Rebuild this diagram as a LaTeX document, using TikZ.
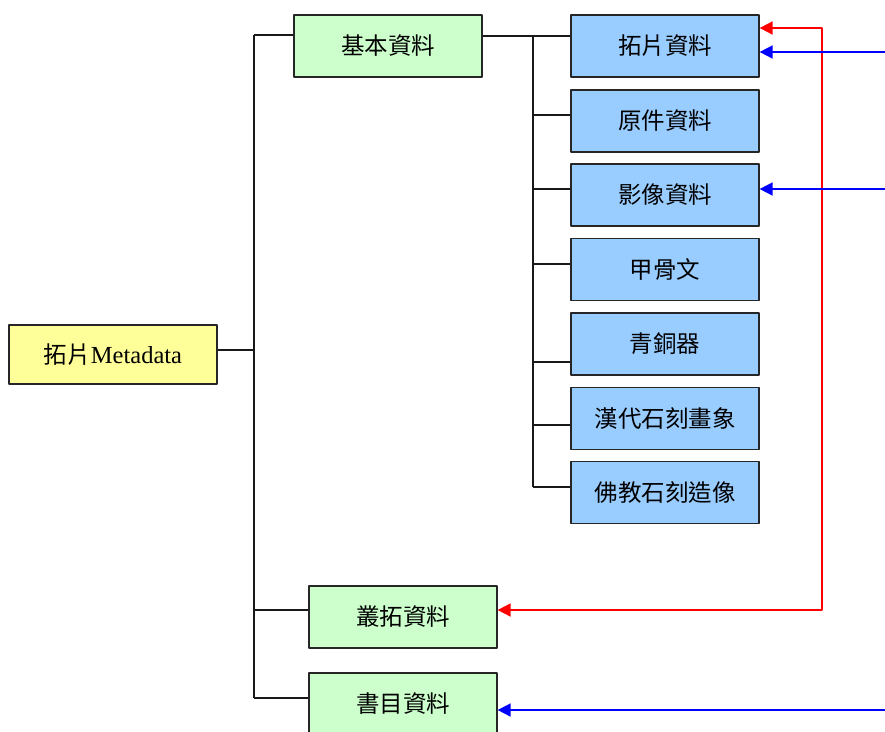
\documentclass[tikz,border=0pt]{standalone}
\usepackage{fontspec}
\setmainfont{Liberation Serif}
\newfontfamily\cjk{Noto Sans CJK TC}
\usetikzlibrary{arrows.meta}
\definecolor{metayellow}{HTML}{FFFF99}
\definecolor{partgreen}{HTML}{CCFFCC}
\definecolor{itemblue}{HTML}{99CCFF}
\tikzset{
  box/.style={draw=black!85, line width=1.2pt, inner sep=0pt, minimum width=188pt, minimum height=62pt, font=\fontsize{23.5}{28}\selectfont\cjk},
  rootbox/.style={box, fill=metayellow, minimum width=208pt, minimum height=59pt},
  partbox/.style={box, fill=partgreen},
  itembox/.style={box, fill=itemblue},
  link/.style={line width=1.1pt, black!90},
  feed/.style={line width=1.6pt, ->}
}
\begin{document}
\begin{tikzpicture}[x=1pt, y=-1pt, >={Triangle[length=13pt,width=13pt]}, line join=round]
	\useasboundingbox (0,0) rectangle (885,731);

	% boxes
	\node[rootbox] (meta) at (113,354.5) {拓片{\rmfamily\fontsize{24.5}{28}\selectfont Metadata}};
	\node[partbox] (jiben) at (388,46) {基本資料};
	\node[partbox] (congtuo) at (403,617) {叢拓資料};
	\node[partbox] (shumu) at (403,704) {書目資料};
	\node[itembox] (tapian) at (665,46) {拓片資料};
	\node[itembox] (yuanjian) at (665,121) {原件資料};
	\node[itembox] (yingxiang) at (665,195) {影像資料};
	\node[itembox] (jiagu) at (665,269.5) {甲骨文};
	\node[itembox] (qingtong) at (665,344) {青銅器};
	\node[itembox] (handai) at (665,418.5) {漢代石刻畫象};
	\node[itembox] (fojiao) at (665,492.5) {佛教石刻造像};

	% trunk of the tree
	\coordinate (T0) at (254,350);
	\coordinate (T1) at (254,35);
	\coordinate (T2) at (254,610);
	\coordinate (T3) at (254,698);
	\draw[link] (T1)--(T3);
	\draw[link] (meta.east |- T0)--(T0);
	\draw[link] (T1)--(T1 -| jiben.west);
	\draw[link] (T2)--(T2 -| congtuo.west);
	\draw[link] (T3)--(T3 -| shumu.west);

	% branch under 基本資料
	\coordinate (B1) at (533,36);
	\coordinate (B2) at (533,115);
	\coordinate (B3) at (533,189);
	\coordinate (B4) at (533,264);
	\coordinate (B5) at (533,362);
	\coordinate (B6) at (533,425);
	\coordinate (B7) at (533,487);
	\draw[link] (jiben.east |- B1)--(B1)--(B7);
	\draw[link] (B1)--(B1 -| tapian.west);
	\draw[link] (B2)--(B2 -| yuanjian.west);
	\draw[link] (B3)--(B3 -| yingxiang.west);
	\draw[link] (B4)--(B4 -| jiagu.west);
	\draw[link] (B5)--(B5 -| qingtong.west);
	\draw[link] (B6)--(B6 -| handai.west);
	\draw[link] (B7)--(B7 -| fojiao.west);

	% incoming links
	\coordinate (R1) at (822,28);
	\coordinate (R2) at (822,610);
	\draw[feed, <->, red] (R1 -| tapian.east)--(R1)--(R2)--(R2 -| congtuo.east);
	\coordinate (L1) at (885,52);
	\coordinate (L2) at (885,189);
	\coordinate (L3) at (885,710);
	\draw[feed, blue] (L1)--(L1 -| tapian.east);
	\draw[feed, blue] (L2)--(L2 -| yingxiang.east);
	\draw[feed, blue] (L3)--(L3 -| shumu.east);
\end{tikzpicture}
\end{document}
